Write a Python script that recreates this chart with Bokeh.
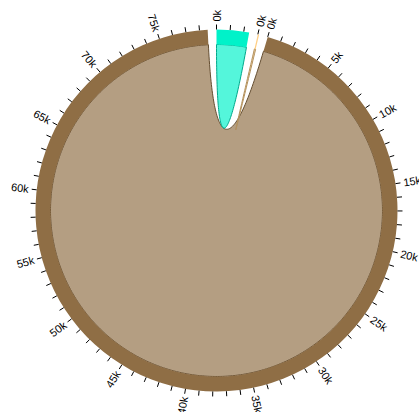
import numpy as np
from bokeh.plotting import figure
from bokeh.models import ColumnDataSource
from bokeh.core.properties import value
from bokeh.embed import file_html
from bokeh.resources import INLINE

# ---- data ----
group_names = ["cyan", "orange", "brown"]
matrix = [
    [2400, 0, 0],
    [0, 100, 0],
    [0, 0, 78600],
]
group_colors = ["#00f2c9", "#ffcf85", "#8f6e45"]
tick_step = 1000
label_step = 5000

# ---- layout ----
W, H = 419, 412
CX, CY = 216, 210
outer_r = 181
inner_r = 166
ribbon_r = 166
pad = np.deg2rad(2.8)

n = len(matrix)
M = np.array(matrix, dtype=float)
total = M.sum()
k = (2 * np.pi - pad * n) / total

# d3.chord layout
groups = []
sub = {}
x = 0.0
for i in range(n):
    x0 = x
    for j in range(n):
        a = x
        x += M[i, j] * k
        sub[(i, j)] = (a, x)
    groups.append((x0, x, M[i].sum()))
    x += pad

def darker(hexc, f=0.7):
    h = hexc.lstrip("#")
    r, g, b = (int(h[i:i + 2], 16) for i in (0, 2, 4))
    return "#%02x%02x%02x" % (int(r * f), int(g * f), int(b * f))

def pt(r, a):
    return r * np.sin(a), r * np.cos(a)

def arc_pts(r, a0, a1, num=None):
    if num is None:
        num = max(2, int(abs(a1 - a0) / 0.01) + 2)
    t = np.linspace(a0, a1, num)
    return list(r * np.sin(t)), list(r * np.cos(t))

def quad_pts(p0, p2, num=80):
    t = np.linspace(0, 1, num)
    xs = (1 - t) ** 2 * p0[0] + t ** 2 * p2[0]
    ys = (1 - t) ** 2 * p0[1] + t ** 2 * p2[1]
    return list(xs), list(ys)

p = figure(width=W, height=H, x_range=(-CX, W - CX), y_range=(-(H - CY), CY),
           output_backend="svg", toolbar_location=None, min_border=0,
           x_axis_location=None, y_axis_location=None)
p.grid.visible = False
p.outline_line_color = None
p.background_fill_color = "white"

# ribbons
rx, ry, rfill, rline = [], [], [], []
for i in range(n):
    for j in range(i, n):
        if M[i, j] == 0 and M[j, i] == 0:
            continue
        sa0, sa1 = sub[(i, j)]
        ta0, ta1 = sub[(j, i)]
        xs, ys = arc_pts(ribbon_r, sa0, sa1)
        if not (sa0 == ta0 and sa1 == ta1):
            qx, qy = quad_pts(pt(ribbon_r, sa1), pt(ribbon_r, ta0))
            xs += qx; ys += qy
            ax, ay = arc_pts(ribbon_r, ta0, ta1)
            xs += ax; ys += ay
            qx, qy = quad_pts(pt(ribbon_r, ta1), pt(ribbon_r, sa0))
        else:
            qx, qy = quad_pts(pt(ribbon_r, sa1), pt(ribbon_r, sa0))
        xs += qx; ys += qy
        col = group_colors[j] if M[j, i] > M[i, j] else group_colors[i]
        rx.append(xs); ry.append(ys)
        rfill.append(col); rline.append(darker(col))

order = sorted(range(len(rx)), key=lambda q: -len(rx[q]))
p.patches([rx[q] for q in order], [ry[q] for q in order],
          fill_color=[rfill[q] for q in order], fill_alpha=0.67,
          line_color=[rline[q] for q in order], line_width=1)

# group arcs
gsrc = ColumnDataSource(dict(
    start=[np.pi / 2 - g[0] for g in groups],
    end=[np.pi / 2 - g[1] for g in groups],
    color=group_colors,
))
p.annular_wedge(x=0, y=0, inner_radius=inner_r, outer_radius=outer_r,
                start_angle="start", end_angle="end", direction="clock",
                fill_color="color", line_color=None, source=gsrc)

# ticks and labels
tx0, ty0, tx1, ty1 = [], [], [], []
lx, ly, lt, la, lal = [], [], [], [], []
for (a0, a1, v) in groups:
    for tv in np.arange(0, v, tick_step):
        ang = a0 + tv * k
        x0_, y0_ = pt(outer_r, ang)
        x1_, y1_ = pt(outer_r + 5, ang)
        tx0.append(x0_); ty0.append(y0_); tx1.append(x1_); ty1.append(y1_)
        if tv % label_step == 0:
            lx_, ly_ = pt(outer_r + 8, ang)
            lx.append(lx_); ly.append(ly_)
            lt.append("%dk" % int(tv / 1000))
            base = np.pi / 2 - ang
            if ang > np.pi:
                la.append(base + np.pi); lal.append("right")
            else:
                la.append(base); lal.append("left")

p.segment(tx0, ty0, tx1, ty1, line_color="black", line_width=1)
lsrc = ColumnDataSource(dict(x=lx, y=ly, text=lt, angle=la, align=lal))
p.text(x="x", y="y", text="text", angle="angle", text_align="align",
       text_baseline="middle", text_font_size="11px",
       text_font=value("Liberation Sans"), text_color="black", source=lsrc)

open("out.html", "w").write(file_html(p, INLINE))
